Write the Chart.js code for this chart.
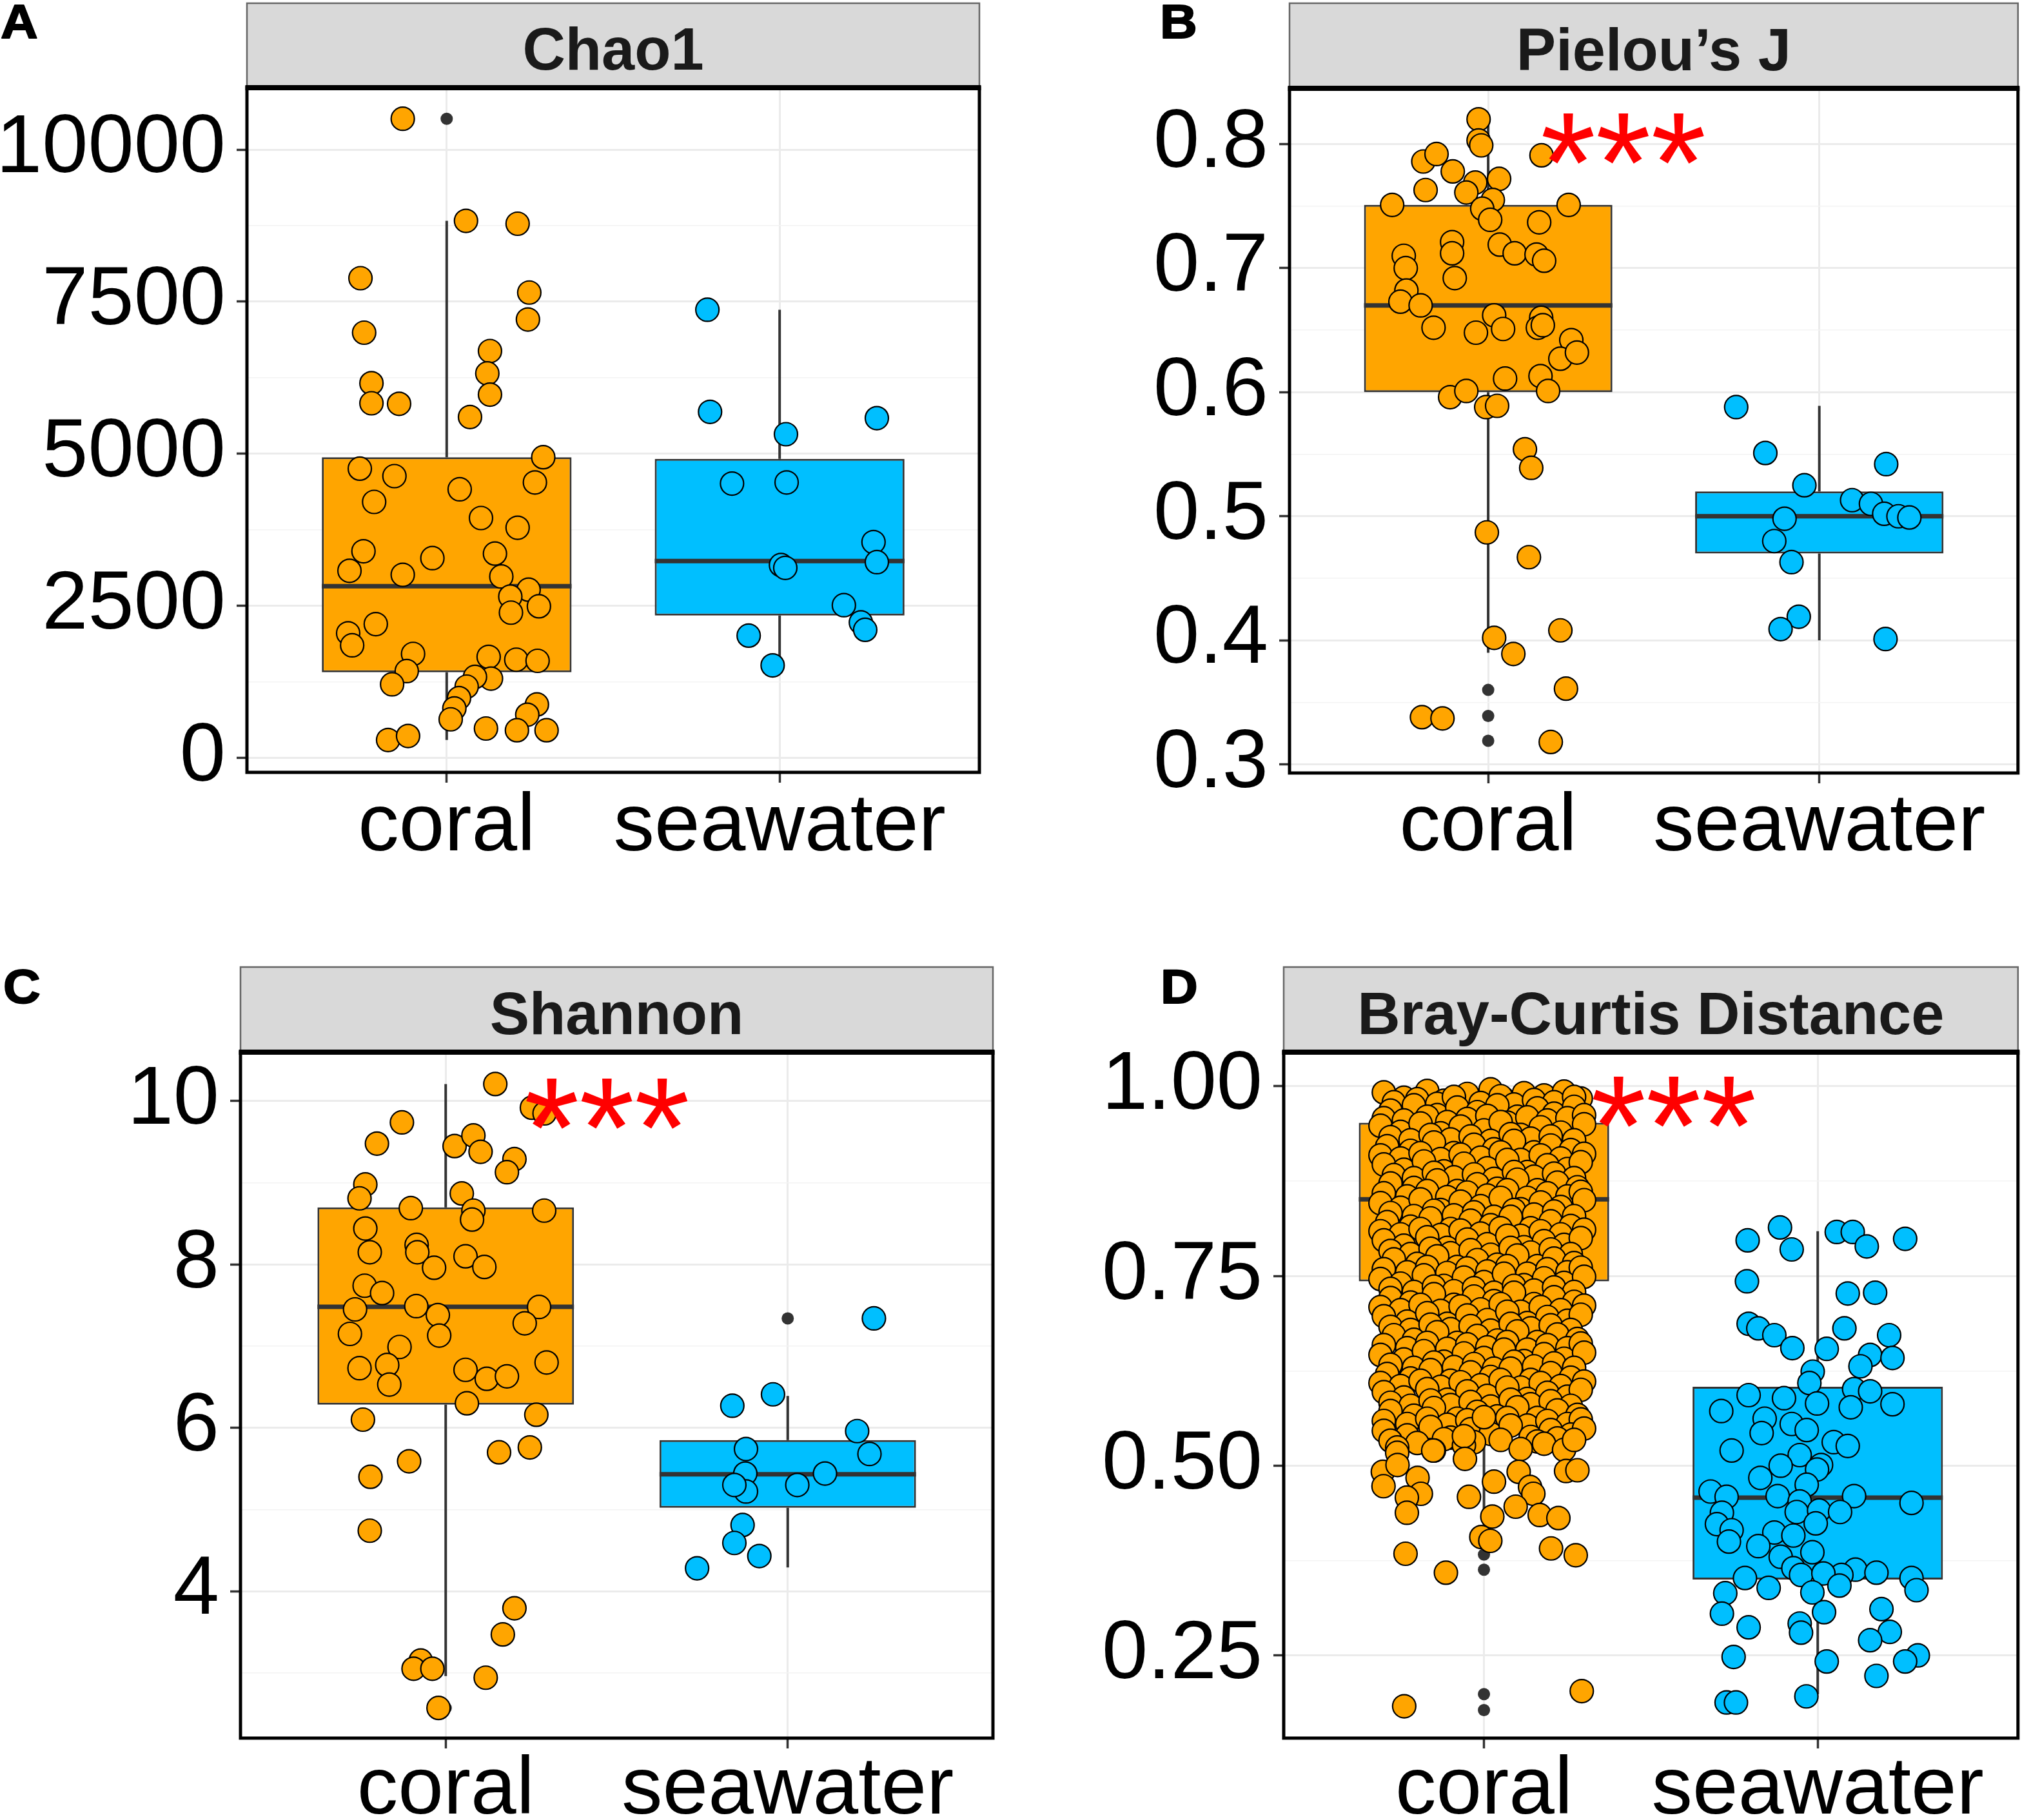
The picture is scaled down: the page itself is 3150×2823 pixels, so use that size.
<!DOCTYPE html>
<html><head><meta charset="utf-8">
<script src="https://cdn.jsdelivr.net/npm/chart.js@4.4.1/dist/chart.umd.min.js"></script>
<style>
html,body{margin:0;padding:0;background:#fff;}
body{width:3150px;height:2823px;position:relative;overflow:hidden;}
canvas{position:absolute;display:block;}
</style></head><body>
<canvas id="panelA" width="1575" height="1400" style="left:0px;top:0px;width:1575px;height:1400px"></canvas>
<canvas id="panelB" width="1575" height="1400" style="left:1575px;top:0px;width:1575px;height:1400px"></canvas>
<canvas id="panelC" width="1575" height="1423" style="left:0px;top:1400px;width:1575px;height:1423px"></canvas>
<canvas id="panelD" width="1575" height="1423" style="left:1575px;top:1400px;width:1575px;height:1423px"></canvas>
<script>
// ---------------- DATA ----------------
const categories = ['coral', 'seawater'];

// Panel A : Chao1
const chaoTicks = [0, 2500, 5000, 7500, 10000];
const chaoTickLabels = ['0', '2500', '5000', '7500', '10000'];
const chaoRange = [-240, 11020];
// [whiskerLow, Q1, median, Q3, whiskerHigh]
const chaoBoxStats = [[292, 1406, 2821, 4943, 8830], [1519, 2340, 3236, 4915, 7368]];
const chaoOutliers = [[1, 10509]];
const chaoCoral = [[0.868,10509],[1.058,8830],[1.213,8783],[0.741,7887],[1.248,7651],[0.752,6991],[1.244,7208],[1.130,6689],[1.122,6321],[0.774,6160],[0.774,5830],[0.857,5821],[1.130,5972],[1.070,5604],[1.290,4943],[0.739,4755],[0.843,4632],[1.265,4528],[1.039,4415],[0.782,4208],[1.103,3943],[1.213,3783],[0.750,3396],[1.145,3358],[0.957,3283],[0.708,3075],[0.868,3009],[1.164,2981],[1.246,2764],[1.191,2651],[1.277,2491],[1.193,2387],[0.787,2198],[0.704,2047],[0.716,1849],[0.899,1708],[1.126,1660],[1.209,1613],[1.273,1594],[0.880,1425],[0.836,1208],[1.133,1302],[1.085,1330],[1.060,1170],[1.037,981],[1.023,811],[1.012,632],[1.271,877],[1.242,708],[0.824,292],[0.884,358],[1.118,481],[1.211,453],[1.300,453]];
const chaoSeawater = [[1.783,7368],[1.791,5689],[2.292,5585],[2.019,5321],[1.857,4509],[2.021,4528],[2.282,3547],[2.292,3217],[2.004,3170],[2.017,3123],[2.193,2509],[2.244,2226],[2.257,2104],[1.907,2009],[1.979,1519]];

// Panel B : Pielou's J
const pielouTicks = [0.3, 0.4, 0.5, 0.6, 0.7, 0.8];
const pielouTickLabels = ['0.3', '0.4', '0.5', '0.6', '0.7', '0.8'];
const pielouRange = [0.293, 0.845];
const pielouBoxStats = [[0.390, 0.600, 0.670, 0.751, 0.820], [0.400, 0.470, 0.500, 0.520, 0.589]];
const pielouOutliers = [[1, 0.360], [1, 0.339], [1, 0.319]];
const pielouCoral = [[0.971,0.820],[0.971,0.803],[0.979,0.799],[0.804,0.786],[0.844,0.792],[0.893,0.778],[1.161,0.791],[0.811,0.763],[0.961,0.769],[1.033,0.772],[0.934,0.761],[1.014,0.755],[0.710,0.751],[1.243,0.751],[0.982,0.748],[1.006,0.739],[1.154,0.737],[0.891,0.721],[1.035,0.719],[0.891,0.712],[1.080,0.712],[0.745,0.710],[1.146,0.711],[1.169,0.706],[0.751,0.700],[0.899,0.692],[0.753,0.682],[0.735,0.673],[0.796,0.670],[1.018,0.662],[1.160,0.660],[0.835,0.652],[0.963,0.648],[1.045,0.651],[1.150,0.652],[1.165,0.654],[1.251,0.642],[1.218,0.627],[1.268,0.632],[1.051,0.611],[1.158,0.613],[0.885,0.596],[0.934,0.601],[1.181,0.601],[0.994,0.588],[1.027,0.589],[1.111,0.554],[1.130,0.539],[0.996,0.487],[1.123,0.467],[1.018,0.402],[1.218,0.408],[1.076,0.389],[1.235,0.361],[0.800,0.338],[0.862,0.337],[1.189,0.318]];
const pielouSeawater = [[1.749,0.588],[1.837,0.551],[2.202,0.542],[1.955,0.525],[2.099,0.513],[2.156,0.510],[2.196,0.502],[2.239,0.500],[2.272,0.499],[1.895,0.498],[1.864,0.480],[1.916,0.463],[1.938,0.419],[1.883,0.409],[2.200,0.401]];

// Panel C : Shannon
const shannonTicks = [4, 6, 8, 10];
const shannonTickLabels = ['4', '6', '8', '10'];
const shannonRange = [2.2, 10.6];
const shannonBoxStats = [[2.96, 6.284, 7.481, 8.699, 10.21], [4.29, 5.02, 5.43, 5.85, 6.39]];
const shannonOutliers = [[1, 2.57], [2, 7.34]];
const shannonCoral = [[1.145,10.21],[1.252,9.92],[1.289,9.85],[0.872,9.74],[0.799,9.48],[1.026,9.45],[1.081,9.58],[1.102,9.38],[1.201,9.29],[1.179,9.13],[0.765,8.98],[0.748,8.81],[1.047,8.87],[0.898,8.69],[1.081,8.66],[1.077,8.55],[1.288,8.66],[0.765,8.44],[0.778,8.15],[0.915,8.24],[0.917,8.15],[1.058,8.10],[0.966,7.96],[1.113,7.97],[0.763,7.74],[0.814,7.65],[0.735,7.45],[0.914,7.49],[0.977,7.38],[1.273,7.48],[1.231,7.28],[0.720,7.15],[0.981,7.13],[0.865,6.99],[0.829,6.77],[0.748,6.73],[0.835,6.53],[1.058,6.71],[1.120,6.60],[1.179,6.63],[1.295,6.80],[1.062,6.30],[0.758,6.10],[1.265,6.16],[1.156,5.70],[1.246,5.76],[0.893,5.59],[0.780,5.40],[0.778,4.74],[1.201,3.79],[1.167,3.47],[0.927,3.15],[0.906,3.05],[0.961,3.05],[1.117,2.94],[0.979,2.57]];
const shannonSeawater = [[2.252,7.34],[1.957,6.41],[1.838,6.27],[2.203,5.96],[1.878,5.74],[2.239,5.68],[2.109,5.44],[1.876,5.44],[1.878,5.22],[1.844,5.30],[2.028,5.30],[1.868,4.81],[1.844,4.59],[1.917,4.43],[1.735,4.28]];

// Panel D : Bray-Curtis Distance
const brayTicks = [0.25, 0.50, 0.75, 1.00];
const brayTickLabels = ['0.25', '0.50', '0.75', '1.00'];
const brayRange = [0.141, 1.045];
const brayBoxStats = [[0.395, 0.743, 0.851, 0.952, 1.0], [0.199, 0.350, 0.458, 0.604, 0.809]];
const brayOutliers = [[1, 0.383], [1, 0.363], [1, 0.199], [1, 0.178]];
const brayCoral = [
[0.70,0.992],[0.76,0.985],[0.83,0.994],[0.88,0.981],[0.95,0.990],[1.02,0.996],[1.06,0.983],[1.12,0.991],[1.18,0.988],[1.24,0.993],[1.29,0.984],
[0.73,0.979],[0.80,0.983],[0.86,0.977],[0.91,0.986],[0.99,0.978],[1.05,0.987],[1.09,0.976],[1.15,0.982],[1.21,0.979],[1.27,0.986],
[0.72,0.968],[0.79,0.975],[0.86,0.962],[0.92,0.972],[0.98,0.966],[1.04,0.975],[1.10,0.960],[1.16,0.971],[1.21,0.964],[1.27,0.973],
[0.70,0.958],[0.76,0.955],[0.83,0.960],[0.89,0.953],[0.95,0.957],[1.01,0.961],[1.07,0.952],[1.13,0.959],[1.19,0.955],[1.25,0.958],[1.30,0.962],
[0.69,0.948],[0.75,0.940],[0.81,0.951],[0.87,0.938],[0.93,0.947],[1.00,0.942],[1.05,0.953],[1.11,0.936],[1.17,0.946],[1.23,0.939],[1.30,0.950],
[0.72,0.933],[0.78,0.929],[0.84,0.936],[0.90,0.930],[0.96,0.934],[1.02,0.928],[1.08,0.937],[1.14,0.931],[1.20,0.934],[1.27,0.929],
[0.71,0.921],[0.78,0.915],[0.85,0.926],[0.91,0.912],[0.97,0.923],[1.03,0.917],[1.09,0.928],[1.15,0.913],[1.20,0.922],[1.26,0.916],
[0.69,0.909],[0.75,0.905],[0.81,0.912],[0.87,0.904],[0.93,0.910],[0.99,0.906],[1.05,0.913],[1.11,0.903],[1.17,0.909],[1.23,0.905],[1.30,0.911],
[0.70,0.897],[0.76,0.890],[0.82,0.901],[0.88,0.888],[0.94,0.898],[1.01,0.892],[1.07,0.903],[1.13,0.887],[1.19,0.896],[1.25,0.891],[1.29,0.900],
[0.73,0.883],[0.79,0.879],[0.85,0.886],[0.91,0.880],[0.97,0.884],[1.03,0.878],[1.09,0.887],[1.15,0.881],[1.21,0.885],[1.27,0.879],
[0.72,0.872],[0.79,0.866],[0.86,0.876],[0.92,0.862],[0.98,0.871],[1.04,0.865],[1.10,0.877],[1.16,0.863],[1.22,0.873],[1.28,0.867],
[0.70,0.859],[0.77,0.855],[0.83,0.862],[0.89,0.854],[0.95,0.860],[1.01,0.856],[1.07,0.863],[1.13,0.853],[1.19,0.859],[1.25,0.855],[1.29,0.861],
[0.69,0.846],[0.75,0.840],[0.81,0.851],[0.87,0.837],[0.93,0.848],[0.99,0.842],[1.05,0.853],[1.11,0.838],[1.17,0.847],[1.23,0.841],[1.30,0.850],
[0.72,0.833],[0.79,0.829],[0.85,0.836],[0.91,0.830],[0.97,0.834],[1.03,0.828],[1.09,0.837],[1.15,0.831],[1.21,0.835],[1.27,0.829],
[0.71,0.821],[0.78,0.815],[0.84,0.826],[0.90,0.812],[0.96,0.823],[1.02,0.817],[1.08,0.828],[1.14,0.813],[1.20,0.822],[1.26,0.816],
[0.69,0.809],[0.75,0.805],[0.81,0.812],[0.87,0.804],[0.93,0.810],[0.99,0.806],[1.05,0.813],[1.11,0.803],[1.17,0.809],[1.23,0.805],[1.30,0.811],
[0.70,0.797],[0.76,0.790],[0.83,0.801],[0.89,0.787],[0.95,0.798],[1.01,0.792],[1.07,0.803],[1.12,0.788],[1.18,0.796],[1.24,0.791],[1.29,0.800],
[0.72,0.783],[0.78,0.779],[0.84,0.786],[0.90,0.780],[0.96,0.784],[1.02,0.778],[1.08,0.787],[1.14,0.781],[1.20,0.785],[1.26,0.779],
[0.73,0.772],[0.80,0.766],[0.86,0.776],[0.92,0.762],[0.98,0.771],[1.04,0.765],[1.10,0.777],[1.16,0.763],[1.21,0.773],[1.27,0.767],
[0.70,0.759],[0.77,0.755],[0.83,0.762],[0.89,0.754],[0.95,0.760],[1.01,0.756],[1.07,0.763],[1.13,0.753],[1.19,0.759],[1.25,0.755],[1.29,0.761],
[0.69,0.746],[0.75,0.740],[0.82,0.751],[0.88,0.737],[0.94,0.748],[1.00,0.742],[1.06,0.753],[1.12,0.738],[1.18,0.747],[1.24,0.741],[1.30,0.749],
[0.72,0.733],[0.79,0.729],[0.85,0.736],[0.91,0.730],[0.97,0.734],[1.03,0.728],[1.09,0.737],[1.15,0.731],[1.21,0.735],[1.27,0.729],
[0.72,0.721],[0.78,0.715],[0.85,0.726],[0.91,0.712],[0.97,0.723],[1.03,0.717],[1.09,0.728],[1.15,0.713],[1.21,0.722],[1.27,0.716],
[0.69,0.709],[0.75,0.705],[0.81,0.712],[0.87,0.704],[0.93,0.710],[0.99,0.706],[1.05,0.713],[1.11,0.703],[1.17,0.709],[1.23,0.705],[1.30,0.711],
[0.70,0.697],[0.77,0.690],[0.83,0.701],[0.89,0.687],[0.95,0.698],[1.01,0.692],[1.07,0.703],[1.13,0.688],[1.19,0.696],[1.25,0.691],[1.29,0.699],
[0.72,0.683],[0.78,0.679],[0.84,0.686],[0.90,0.680],[0.96,0.684],[1.02,0.678],[1.08,0.687],[1.14,0.681],[1.20,0.685],[1.26,0.679],
[0.73,0.672],[0.79,0.666],[0.86,0.676],[0.92,0.662],[0.98,0.671],[1.04,0.665],[1.10,0.677],[1.16,0.663],[1.22,0.673],[1.28,0.667],
[0.70,0.659],[0.77,0.655],[0.83,0.662],[0.89,0.654],[0.95,0.660],[1.01,0.656],[1.07,0.663],[1.13,0.653],[1.19,0.659],[1.25,0.655],[1.29,0.661],
[0.69,0.646],[0.76,0.640],[0.82,0.651],[0.88,0.637],[0.94,0.648],[1.00,0.642],[1.06,0.653],[1.12,0.638],[1.18,0.647],[1.24,0.641],[1.30,0.649],
[0.72,0.633],[0.79,0.629],[0.85,0.636],[0.91,0.630],[0.97,0.634],[1.03,0.628],[1.09,0.637],[1.15,0.631],[1.21,0.635],[1.27,0.629],
[0.71,0.621],[0.78,0.615],[0.84,0.626],[0.90,0.612],[0.96,0.623],[1.02,0.617],[1.08,0.628],[1.14,0.613],[1.20,0.622],[1.26,0.616],
[0.69,0.609],[0.75,0.605],[0.81,0.612],[0.87,0.604],[0.93,0.610],[0.99,0.606],[1.05,0.613],[1.11,0.603],[1.17,0.609],[1.23,0.605],[1.30,0.611],
[0.70,0.597],[0.76,0.590],[0.83,0.601],[0.89,0.587],[0.95,0.598],[1.01,0.592],[1.07,0.603],[1.13,0.588],[1.19,0.596],[1.25,0.591],[1.29,0.600],
[0.72,0.583],[0.78,0.579],[0.84,0.586],[0.90,0.580],[0.96,0.584],[1.02,0.578],[1.08,0.587],[1.14,0.581],[1.20,0.585],[1.26,0.579],
[0.72,0.572],[0.79,0.566],[0.85,0.576],[0.92,0.562],[0.98,0.571],[1.04,0.565],[1.10,0.577],[1.16,0.563],[1.22,0.573],[1.28,0.567],
[0.70,0.559],[0.77,0.555],[0.83,0.562],[0.89,0.554],[0.95,0.560],[1.01,0.556],[1.07,0.563],[1.13,0.553],[1.19,0.559],[1.25,0.555],[1.29,0.561],
[0.70,0.546],[0.77,0.540],[0.84,0.551],[0.90,0.537],[0.96,0.548],[1.02,0.542],[1.08,0.553],[1.14,0.538],[1.20,0.547],[1.26,0.541],[1.30,0.549],
[0.72,0.533],[0.80,0.530],[0.88,0.535],[0.97,0.531],[1.05,0.534],[1.16,0.532],[1.22,0.536],
[0.74,0.524],[0.85,0.520],[0.94,0.527],[1.11,0.522],[1.18,0.529],[1.24,0.521],[1.00,0.564],[0.94,0.539],[0.74,0.517],[1.27,0.534],
[0.697,0.492],[0.699,0.473],[0.741,0.501],[0.801,0.484],[0.811,0.463],[0.769,0.458],[0.769,0.438],[0.848,0.520],[0.943,0.509],[0.955,0.459],
[1.030,0.479],[1.025,0.433],[0.992,0.406],[1.019,0.401],[1.104,0.492],[1.138,0.472],[1.148,0.463],[1.095,0.446],[1.167,0.435],[1.223,0.431],
[1.246,0.493],[1.280,0.494],[1.201,0.391],[1.275,0.382],[0.765,0.384],[0.886,0.359],[1.293,0.203],[0.761,0.183]
];
const braySeawater = [[1.887,0.814],[1.790,0.797],[1.922,0.785],[2.057,0.808],[2.105,0.808],[2.147,0.789],[2.262,0.799],[1.788,0.743],[2.090,0.727],[2.172,0.728],[1.793,0.687],[1.822,0.681],[1.870,0.672],[1.924,0.655],[2.027,0.654],[2.080,0.681],[2.214,0.672],[2.157,0.646],[2.224,0.642],[2.128,0.631],[1.985,0.624],[1.975,0.609],[2.109,0.601],[2.157,0.598],[1.711,0.572],[1.793,0.593],[1.899,0.589],[1.998,0.582],[2.099,0.577],[2.224,0.581],[1.841,0.562],[1.922,0.555],[1.832,0.543],[1.967,0.547],[2.048,0.531],[2.090,0.526],[1.742,0.520],[1.946,0.514],[1.889,0.500],[2.010,0.501],[1.998,0.495],[1.828,0.484],[1.967,0.475],[1.679,0.466],[1.727,0.459],[1.880,0.460],[1.946,0.453],[2.109,0.460],[2.281,0.451],[1.713,0.438],[1.937,0.439],[2.004,0.441],[2.067,0.439],[1.698,0.423],[1.994,0.424],[1.742,0.415],[1.870,0.412],[1.927,0.408],[1.734,0.400],[1.822,0.394],[1.889,0.380],[1.984,0.386],[1.927,0.365],[2.113,0.363],[2.176,0.359],[2.071,0.356],[1.950,0.356],[2.017,0.358],[1.782,0.352],[2.281,0.352],[1.853,0.339],[1.723,0.332],[2.296,0.336],[1.984,0.333],[2.065,0.342],[2.191,0.311],[1.713,0.305],[2.019,0.307],[1.946,0.292],[1.793,0.287],[1.950,0.280],[2.216,0.281],[2.157,0.270],[1.748,0.248],[2.300,0.250],[2.262,0.242],[2.027,0.242],[2.176,0.223],[1.966,0.196],[1.727,0.188],[1.755,0.188]];

// significance annotations (data coordinates of the label centre)
const pielouSig = { text: '***', x: 1.408, y: 0.805 };
const shannonSig = { text: '***', x: 1.471, y: 9.98 };
const braySig = { text: '***', x: 1.568, y: 0.981 };

// ---------------- STYLE / LAYOUT ----------------
const FONT = '"Liberation Sans", Arial, Helvetica, sans-serif';
const ORANGE = '#FFA500';
const BLUE = '#00BFFF';
const BOX_WIDTH = 0.75;
const PT_R = 18;

function makePanel(id, spec) {
  const g = spec.layout;
  const canvas = document.getElementById(id);
  const step = spec.ticks[1] - spec.ticks[0];
  const eps = step * 1e-6;
  const minor = [];
  for (let i = -1; i < spec.ticks.length; i++) {
    const m = spec.ticks[0] + (i + 0.5) * step;
    if (m > spec.range[0] && m < spec.range[1]) minor.push(m);
  }
  const isMajor = v => spec.ticks.some(t => Math.abs(t - v) < eps);
  const labelFor = v => { const i = spec.ticks.findIndex(t => Math.abs(t - v) < eps); return i < 0 ? '' : spec.tickLabels[i]; };
  const half = BOX_WIDTH / 2;
  const whiskers = [], medians = [];
  spec.stats.forEach((s, i) => {
    const x = i + 1;
    whiskers.push({x, y: s[0]}, {x, y: s[1]}, {x, y: null}, {x, y: s[3]}, {x, y: s[4]}, {x, y: null});
    medians.push({x: x - half, y: s[2]}, {x: x + half, y: s[2]}, {x: x + half, y: null});
  });
  const toXY = p => ({x: p[0], y: p[1]});
  const datasets = [
    {type: 'line', data: whiskers, borderColor: '#333333', borderWidth: 4, pointRadius: 0, spanGaps: false, fill: false, order: 10},
    {type: 'bar', data: spec.stats.map((s, i) => ({x: i + 1, y: [s[1], s[3]]})), backgroundColor: [ORANGE, BLUE],
     borderColor: '#333333', borderWidth: 3, borderSkipped: false, barPercentage: BOX_WIDTH, categoryPercentage: 1, order: 9},
    {type: 'line', data: medians, borderColor: '#333333', borderWidth: 7, pointRadius: 0, spanGaps: false, fill: false, borderCapStyle: 'butt', order: 8},
    {type: 'scatter', data: spec.outliers.map(toXY), pointRadius: 9.5, pointBackgroundColor: '#333333', pointBorderWidth: 0, order: 7},
    {type: 'scatter', data: spec.coral.map(toXY), pointRadius: PT_R, pointBackgroundColor: ORANGE, pointBorderColor: '#000', pointBorderWidth: 2.2, order: 2},
    {type: 'scatter', data: spec.sea.map(toXY), pointRadius: PT_R, pointBackgroundColor: BLUE, pointBorderColor: '#000', pointBorderWidth: 2.2, order: 1}
  ];
  const decor = {
    id: 'decor',
    afterDatasetsDraw(chart) {
      const {ctx, chartArea: a} = chart;
      ctx.save();
      if (spec.sig) {
        const px = chart.scales.x.getPixelForValue(spec.sig.x);
        const py = chart.scales.y.getPixelForValue(spec.sig.y);
        const fs = 220;
        ctx.font = fs + 'px ' + FONT;
        ctx.fillStyle = '#FF0000';
        ctx.textAlign = 'center';
        ctx.textBaseline = 'alphabetic';
        ctx.fillText(spec.sig.text, px, py + 0.52 * fs);
      }
      // strip
      ctx.fillStyle = '#D9D9D9';
      ctx.fillRect(a.left, g.stripT, a.right - a.left, a.top - g.stripT);
      ctx.strokeStyle = '#666666';
      ctx.lineWidth = 2.5;
      ctx.strokeRect(a.left, g.stripT, a.right - a.left, a.top - g.stripT);
      ctx.fillStyle = '#1A1A1A';
      ctx.font = 'bold 92px ' + FONT;
      ctx.textAlign = 'center';
      ctx.textBaseline = 'alphabetic';
      ctx.fillText(spec.title, (a.left + a.right) / 2, g.stripT + (a.top - g.stripT) * 0.79);
      // panel border
      ctx.strokeStyle = '#000000';
      ctx.lineWidth = 5;
      ctx.strokeRect(a.left, a.top, a.right - a.left, a.bottom - a.top);
      ctx.lineWidth = 8;
      ctx.beginPath();
      ctx.moveTo(a.left - 2.5, a.top);
      ctx.lineTo(a.right + 2.5, a.top);
      ctx.stroke();
      // panel letter
      ctx.translate(g.letterX, g.letterY);
      ctx.scale(1.08, 1);
      ctx.fillStyle = '#000000';
      ctx.strokeStyle = '#000000';
      ctx.lineWidth = 2;
      ctx.lineJoin = 'round';
      ctx.font = 'bold 74px ' + FONT;
      ctx.textAlign = 'left';
      ctx.fillText(spec.letter, 0, 0);
      ctx.strokeText(spec.letter, 0, 0);
      ctx.restore();
    }
  };
  return new Chart(canvas, {
    type: 'scatter',
    data: {datasets},
    options: {
      responsive: false, animation: false, devicePixelRatio: 1, events: [],
      layout: {padding: {left: 0, top: g.plotT, right: g.w - g.plotR, bottom: 0}},
      plugins: {legend: {display: false}, tooltip: {enabled: false}},
      scales: {
        x: {
          type: 'linear', min: 0.4, max: 2.6, offset: false,
          afterBuildTicks: s => { s.ticks = categories.map((c, i) => ({value: i + 1})); },
          afterFit: s => { s.height = g.h - g.plotB; },
          ticks: {autoSkip: false, maxRotation: 0, minRotation: 0, padding: g.xPad, color: '#000',
                  font: {family: FONT, size: 127, lineHeight: 1},
                  callback: v => categories[Math.round(v) - 1] || ''},
          grid: {color: '#EBEBEB', lineWidth: 3, tickLength: 16, tickWidth: 3.5, tickColor: '#333333', offset: false},
          border: {display: false}
        },
        y: {
          type: 'linear', min: spec.range[0], max: spec.range[1],
          afterBuildTicks: s => { s.ticks = spec.ticks.concat(minor).sort((p, q) => p - q).map(v => ({value: v})); },
          afterFit: s => { s.width = g.plotL; },
          ticks: {autoSkip: false, padding: 17, color: '#000', font: {family: FONT, size: 128, lineHeight: 1},
                  callback: v => labelFor(v)},
          grid: {
            color: c => isMajor(c.tick.value) ? '#EBEBEB' : '#F3F3F3',
            lineWidth: c => isMajor(c.tick.value) ? 3 : 1.5,
            tickLength: 16, tickWidth: 3.5,
            tickColor: c => isMajor(c.tick.value) ? '#333333' : 'rgba(0,0,0,0)'
          },
          border: {display: false}
        }
      }
    },
    plugins: [decor]
  });
}

makePanel('panelA', {
  title: 'Chao1', letter: 'A', ticks: chaoTicks, tickLabels: chaoTickLabels, range: chaoRange,
  stats: chaoBoxStats, outliers: chaoOutliers, coral: chaoCoral, sea: chaoSeawater, sig: null,
  layout: {w: 1575, h: 1400, plotL: 383, plotT: 136, plotR: 1519, plotB: 1198, stripT: 5, letterX: 1, letterY: 59, xPad: 6}
});
makePanel('panelB', {
  title: 'Pielou\u2019s J', letter: 'B', ticks: pielouTicks, tickLabels: pielouTickLabels, range: pielouRange,
  stats: pielouBoxStats, outliers: pielouOutliers, coral: pielouCoral, sea: pielouSeawater, sig: pielouSig,
  layout: {w: 1575, h: 1400, plotL: 425, plotT: 137, plotR: 1558, plotB: 1199, stripT: 5, letterX: 224, letterY: 59, xPad: 5}
});
makePanel('panelC', {
  title: 'Shannon', letter: 'C', ticks: shannonTicks, tickLabels: shannonTickLabels, range: shannonRange,
  stats: shannonBoxStats, outliers: shannonOutliers, coral: shannonCoral, sea: shannonSeawater, sig: shannonSig,
  layout: {w: 1575, h: 1423, plotL: 373, plotT: 232, plotR: 1540, plotB: 1296, stripT: 100, letterX: 5, letterY: 156, xPad: 2}
});
makePanel('panelD', {
  title: 'Bray-Curtis Distance', letter: 'D', ticks: brayTicks, tickLabels: brayTickLabels, range: brayRange,
  stats: brayBoxStats, outliers: brayOutliers, coral: brayCoral, sea: braySeawater, sig: braySig,
  layout: {w: 1575, h: 1423, plotL: 416, plotT: 232, plotR: 1565, plotB: 1296, stripT: 100, letterX: 225, letterY: 156, xPad: 2}
});
</script>
</body></html>
